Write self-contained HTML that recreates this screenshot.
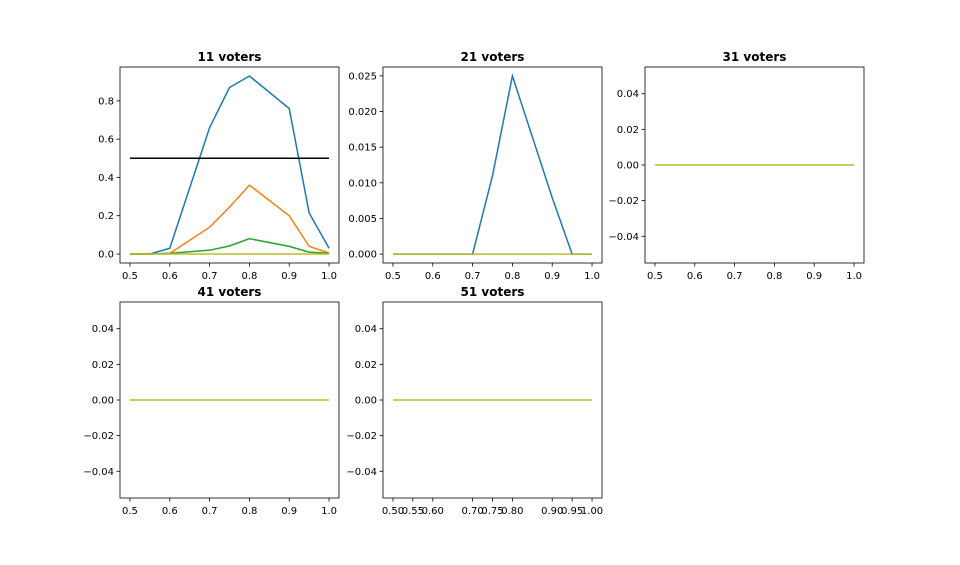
<!DOCTYPE html>
<html><head><meta charset="utf-8"><style>
body{margin:0;background:#fff;}
svg{font-family:"DejaVu Sans","Liberation Sans",sans-serif;}
</style></head><body>
<svg id="fig" width="960" height="560"></svg>
<script>
const xs = [0.5,0.55,0.6,0.7,0.75,0.8,0.9,0.95,1.0];
const p11Blue = [0,0,0.03,0.66,0.87,0.93,0.76,0.215,0.03];
const p11Orange = [0,0,0.003,0.14,0.245,0.36,0.2,0.04,0.005];
const p11Green = [0,0,0.003,0.02,0.042,0.08,0.04,0.01,0.004];
const p11Black = [0.5,0.5,0.5,0.5,0.5,0.5,0.5,0.5,0.5];
const p21Blue = [0,0,0,0,0.011,0.025,0.0079,0,0];
const zeros = [0,0,0,0,0,0,0,0,0];
const titles = ["11 voters","21 voters","31 voters","41 voters","51 voters"];
const yt1 = [0,0.2,0.4,0.6,0.8], yt1L=["0.0","0.2","0.4","0.6","0.8"];
const yt2 = [0,0.005,0.01,0.015,0.02,0.025], yt2L=["0.000","0.005","0.010","0.015","0.020","0.025"];
const ytz = [-0.04,-0.02,0,0.02,0.04], ytzL=["−0.04","−0.02","0.00","0.02","0.04"];
const xt = [0.5,0.6,0.7,0.8,0.9,1.0], xtL=["0.5","0.6","0.7","0.8","0.9","1.0"];
const xtLast = ["0.50","0.55","0.60","0.70","0.75","0.80","0.90","0.95","1.00"];

const NS="http://www.w3.org/2000/svg", svg=document.getElementById('fig');
function mk(tag,at,parent){const e=document.createElementNS(NS,tag);for(const k in at)e.setAttribute(k,at[k]);(parent||svg).appendChild(e);return e;}
const panels=[
 {x:120,y:67,series:[[p11Blue,'#1f77b4'],[p11Orange,'#ff7f0e'],[p11Green,'#2ca02c'],[zeros,'#bcbd22'],[p11Black,'#000']],ymin:-0.047,ymax:0.977,yt:yt1,ytL:yt1L},
 {x:383,y:67,series:[[p21Blue,'#1f77b4'],[zeros,'#bcbd22']],ymin:-0.00125,ymax:0.02625,yt:yt2,ytL:yt2L},
 {x:645,y:67,series:[[zeros,'#bcbd22']],ymin:-0.055,ymax:0.055,yt:ytz,ytL:ytzL},
 {x:120,y:302,series:[[zeros,'#bcbd22']],ymin:-0.055,ymax:0.055,yt:ytz,ytL:ytzL},
 {x:383,y:302,series:[[zeros,'#bcbd22']],ymin:-0.055,ymax:0.055,yt:ytz,ytL:ytzL,last:true}
];
const W=219,H=196;
panels.forEach((p,i)=>{
 const g=mk('g',{});
 
 
 const sx=v=>p.x+(v-0.475)/0.55*W, sy=v=>p.y+H-(v-p.ymin)/(p.ymax-p.ymin)*H;
 const t=mk('text',{x:p.x+W/2,y:p.y-6,'text-anchor':'middle','font-size':12,'font-weight':'bold'},g);t.textContent=titles[i];
 
 p.series.forEach(([arr,c])=>{
  const l=mk('polyline',{points:xs.map((x,j)=>sx(x)+','+sy(arr[j])).join(' '),fill:'none',stroke:c,'stroke-width':1.5},g);
  
 });
 mk('rect',{x:p.x,y:p.y,width:W,height:H,fill:'none',stroke:'#000','stroke-width':0.8},g);
 p.yt.forEach((v,j)=>{const y=sy(v);mk('line',{x1:p.x-3.5,x2:p.x,y1:y,y2:y,stroke:'#000','stroke-width':0.8},g);
  const tx=mk('text',{x:p.x-6,y:y+3.5,'text-anchor':'end','font-size':10},g);tx.textContent=p.ytL[j];
  });
 const xv=p.last?xs:xt, xl=p.last?xtLast:xtL;
 xv.forEach((v,j)=>{const x=sx(v);mk('line',{x1:x,x2:x,y1:p.y+H,y2:p.y+H+3.5,stroke:'#000','stroke-width':0.8},g);
  const tx=mk('text',{x:x,y:p.y+H+16,'text-anchor':'middle','font-size':10},g);tx.textContent=xl[j];
  });
});
</script>
</body></html>
